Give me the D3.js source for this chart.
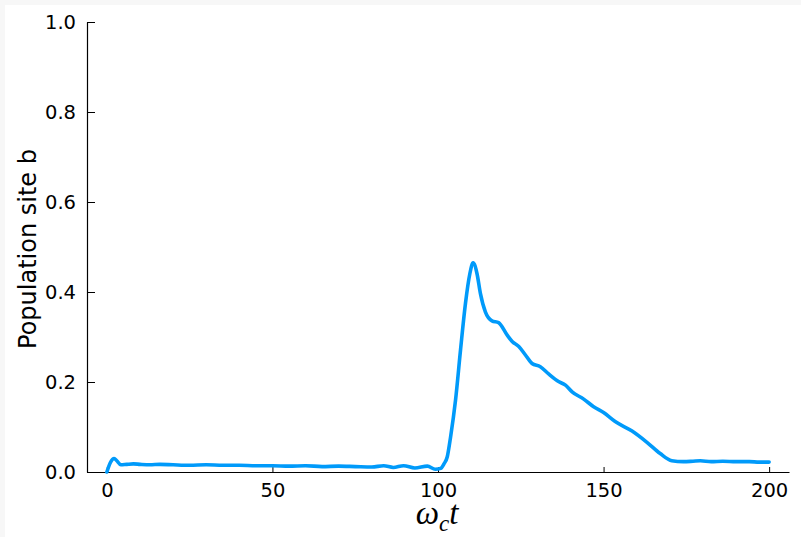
<!DOCTYPE html>
<html>
<head>
<meta charset="utf-8">
<script src="https://cdn.jsdelivr.net/npm/d3@7"></script>
<style>
  html, body { margin: 0; padding: 0; background: #ffffff; }
  svg { display: block; }
</style>
</head>
<body>
<svg id="chart" width="801" height="537"></svg>
<script>
// ---- data ----
const timeValues = [0, 1, 2.2, 3, 4.2, 6, 8, 10, 13, 16, 20, 25, 30, 35, 40, 45, 50, 55, 60, 65, 70, 75, 80, 83.6, 86.5, 89.6, 93, 96.8, 99.2, 100.8, 101.8, 102.8, 103.8, 105.3, 106.8, 108.3, 109.6, 110.6, 111.8, 112.8, 114.3, 116.3, 118.3, 120.9, 122.4, 124.4, 126.4, 128.4, 130.9, 133.4, 136.4, 138.5, 140.5, 144, 147, 150, 153.5, 158.6, 163.1, 167.1, 170.6, 174.1, 177, 179.2, 182.5, 186, 190, 194, 197, 200];
const populationB = [0.0, 0.02, 0.030, 0.025, 0.016, 0.017, 0.018, 0.017, 0.016, 0.017, 0.016, 0.015, 0.016, 0.015, 0.015, 0.014, 0.014, 0.013, 0.014, 0.012, 0.013, 0.012, 0.011, 0.014, 0.010, 0.014, 0.009, 0.013, 0.006, 0.008, 0.018, 0.034, 0.078, 0.16, 0.271, 0.375, 0.44, 0.465, 0.44, 0.397, 0.356, 0.336, 0.332, 0.304, 0.29, 0.279, 0.26, 0.241, 0.234, 0.218, 0.201, 0.193, 0.178, 0.162, 0.145, 0.132, 0.112, 0.091, 0.066, 0.041, 0.025, 0.023, 0.024, 0.025, 0.023, 0.024, 0.023, 0.023, 0.022, 0.022];
const xTicks = [0, 50, 100, 150, 200];
const yTicks = [0, 0.2, 0.4, 0.6, 0.8, 1.0];
const xDomain = [-6, 206];
const yDomain = [0, 1];

const svg = d3.select("#chart");
const W = 801, H = 537;
const mLeft = 87, mRight = 789, mTop = 22, mBottom = 472;

svg.append("rect").attr("width", W).attr("height", H).attr("fill", "#f7f7f7");
svg.append("rect").attr("x", 5).attr("y", 5).attr("width", W - 5).attr("height", H - 5).attr("fill", "#ffffff");

const x = d3.scaleLinear().domain(xDomain).range([mLeft, mRight]);
const y = d3.scaleLinear().domain(yDomain).range([mBottom, mTop]);

const font = "'DejaVu Sans', sans-serif";

// x axis
const xAxis = d3.axisBottom(x).tickValues(xTicks).tickFormat(d3.format("d"))
  .tickSizeInner(-5).tickSizeOuter(0).tickPadding(11);
const gx = svg.append("g").attr("transform", `translate(0,${mBottom})`).call(xAxis);
gx.selectAll("text").attr("font-family", font).attr("font-size", 19.5).attr("fill", "#000");
gx.selectAll("line").attr("stroke", "#000").attr("stroke-width", 1);
gx.select(".domain").attr("stroke", "#000").attr("stroke-width", 1.2);

// y axis
const yAxis = d3.axisLeft(y).tickValues(yTicks).tickFormat(d3.format(".1f"))
  .tickSizeInner(-8).tickSizeOuter(0).tickPadding(11);
const gy = svg.append("g").attr("transform", `translate(${mLeft},0)`).call(yAxis);
gy.selectAll("text").attr("font-family", font).attr("font-size", 19.5).attr("fill", "#000");
gy.selectAll("line").attr("stroke", "#000").attr("stroke-width", 1);
gy.select(".domain").attr("stroke", "#000").attr("stroke-width", 1.2);

// line
const data = timeValues.map((t, i) => ({ t, v: populationB[i] }));
const line = d3.line().x(d => x(d.t)).y(d => y(d.v)).curve(d3.curveMonotoneX);
svg.append("path").datum(data)
  .attr("d", line)
  .attr("fill", "none")
  .attr("stroke", "#009AFA")
  .attr("stroke-width", 3.6)
  .attr("stroke-linejoin", "round")
  .attr("stroke-linecap", "round");

// y label
svg.append("text")
  .attr("transform", `translate(36,${(mTop + mBottom) / 2 + 2}) rotate(-90)`)
  .attr("text-anchor", "middle")
  .attr("font-family", font)
  .attr("font-size", 24)
  .attr("fill", "#000")
  .text("Population site b");

// x label (math)
const xl = svg.append("text")
  .attr("x", (mLeft + mRight) / 2 - 1)
  .attr("y", 524)
  .attr("text-anchor", "middle")
  .attr("font-family", "'Liberation Serif', 'DejaVu Serif', serif")
  .attr("font-style", "italic")
  .attr("fill", "#000");
xl.append("tspan").attr("font-size", 33).text("ω");
xl.append("tspan").attr("font-size", 23).attr("dy", 7).text("c");
xl.append("tspan").attr("font-size", 33).attr("dy", -7).text("t");
</script>
</body>
</html>
